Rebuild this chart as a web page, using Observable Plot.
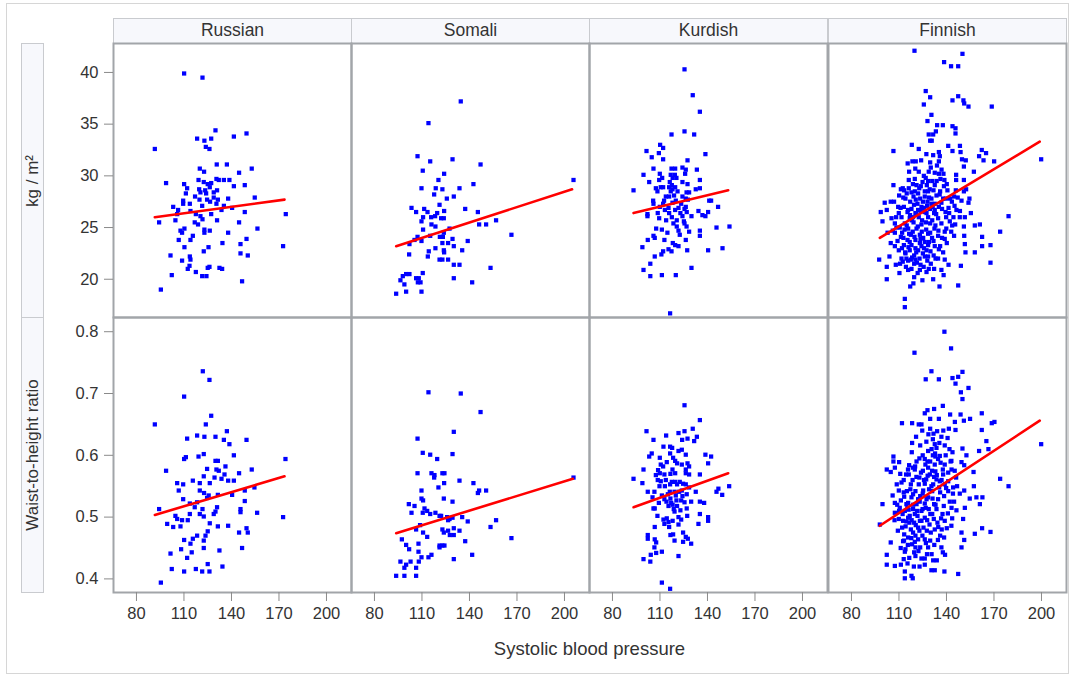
<!DOCTYPE html>
<html>
<head>
<meta charset="utf-8">
<script src="https://cdn.jsdelivr.net/npm/d3@7"></script>
<script src="https://cdn.jsdelivr.net/npm/@observablehq/plot@0.6"></script>
<style>
  html, body { margin: 0; padding: 0; background: #fff; }
  body { font-family: "Liberation Sans", Arial, sans-serif; }
  #root { position: relative; width: 1073px; height: 675px; overflow: hidden; background: #fff; }
  .outer { position: absolute; left: 6px; top: 3px; width: 1063px; height: 671px; border: 1px solid #d6d6d6; box-sizing: border-box; }
  .colhead { position: absolute; top: 18px; height: 25px; background: #f7f8fc; border: 1px solid #c9cbcf; border-bottom: none; box-sizing: border-box; font-size: 17.5px; color: #333; text-align: center; line-height: 23px; }
  .rowhead { position: absolute; left: 21px; width: 23px; background: #f7f8fc; border: 1px solid #c9cbcf; box-sizing: border-box; }
  .rowhead span { position: absolute; left: 50%; top: 50%; transform: translate(-50%, -50%) rotate(-90deg); white-space: nowrap; font-size: 17px; color: #333; }
  .panel { position: absolute; }
  .xlabel { position: absolute; top: 638px; left: 113px; width: 953px; text-align: center; font-size: 18.5px; color: #333; }
</style>
</head>
<body>
<div id="root"></div>
<script>
// ---------------- data ----------------
const groups = ["Russian", "Somali", "Kurdish", "Finnish"];
const rowLabels = ["kg / m\u00B2", "Waist-to-height ratio"];
const xTitle = "Systolic blood pressure";
const xTicks = [80, 110, 140, 170, 200];
const bmiTicks = [20, 25, 30, 35, 40];
const whtrTicks = [0.4, 0.5, 0.6, 0.7, 0.8];

// [systolic blood pressure, BMI]
const russianBmi = [[110.1,39.9],[121.7,39.5],[91.6,32.6],[129.9,34.4],[118.3,33.6],[122.9,33.4],[127.2,33.6],[141.5,33.8],[149.5,34.1],[123.8,32.8],[126.1,32.6],[98.7,29.3],[120,30.7],[122.7,30.4],[130.7,31.1],[137.1,31.1],[144.8,30.3],[152.8,30.7],[110.1,29.2],[112,28.8],[119.2,29.6],[122.5,29.4],[125,29.2],[127.2,29.3],[130.5,29.7],[132,29.6],[135.2,29.6],[138.7,29.6],[141.5,29.0],[148.4,29.1],[119.6,28.7],[120.4,28.4],[123.4,28.6],[126.3,28.9],[128.8,28.4],[130.9,28.6],[111.2,28.3],[119.8,27.7],[124.6,27.7],[128.8,27.9],[131.4,27.7],[137.9,27.8],[154.7,27.9],[109.5,27.6],[109.5,27.3],[113.7,27.3],[103.2,27.0],[106.3,26.7],[121.5,27.1],[130.5,27.3],[135.2,27.1],[140.4,26.9],[105.7,26.3],[114.1,26.6],[117.5,26.3],[120.4,26.1],[127.2,26.3],[133.7,26.7],[148.4,26.5],[174.3,26.3],[94.3,25.5],[104.6,25.7],[116.8,25.5],[118.9,25.3],[121.7,25.8],[130.9,25.7],[144.8,25.5],[107.8,24.7],[110.3,24.9],[108.8,24.5],[122.9,24.8],[122.9,24.5],[126.3,24.7],[137.9,24.5],[156.4,24.9],[115.6,24.2],[114.1,23.8],[106.7,23.8],[149.5,23.9],[134.3,23.5],[145.7,23.4],[172.6,23.2],[110.3,23.1],[125.5,23.1],[122.5,22.7],[145.7,22.5],[101.5,22.3],[113.7,22.2],[150.3,22.3],[114.1,21.9],[108.8,21.8],[113.5,21.3],[112.4,21.0],[126.1,21.2],[125,21.1],[132.4,21.1],[134.1,21.0],[117.5,20.7],[102.3,20.4],[121.5,20.3],[124.2,20.3],[146.7,19.8],[95.4,19.0],[124.0,28.3],[117.0,28.0],[126.5,27.5]];

// [systolic blood pressure, waist-to-height ratio]
const russianWhtr = [[121.9,0.736],[126.1,0.722],[110.1,0.695],[91.6,0.650],[127.2,0.664],[123.8,0.650],[149.5,0.625],[112,0.627],[118.3,0.632],[122.9,0.630],[129.9,0.630],[135.2,0.625],[137.1,0.639],[138.7,0.618],[141.5,0.600],[110.1,0.594],[111.2,0.597],[119.2,0.598],[122.5,0.602],[129.9,0.591],[131.4,0.591],[136.2,0.582],[98.7,0.575],[174.1,0.594],[124.6,0.578],[130.5,0.577],[132,0.575],[152.8,0.577],[144.8,0.571],[135.6,0.569],[129.3,0.564],[122.5,0.566],[115.6,0.559],[105.7,0.555],[109.5,0.553],[120.0,0.555],[126.3,0.555],[133.7,0.562],[137.9,0.559],[141.5,0.559],[106.7,0.543],[120,0.543],[122.7,0.539],[125.6,0.535],[131.4,0.536],[140.4,0.536],[148.4,0.543],[154.5,0.548],[109.5,0.529],[124.6,0.531],[113.7,0.522],[118.3,0.524],[148.4,0.526],[116.8,0.516],[121.7,0.513],[130.9,0.516],[94.3,0.513],[145.7,0.513],[129.9,0.509],[120.0,0.505],[122.5,0.501],[128.8,0.505],[145.7,0.508],[156.2,0.507],[113.7,0.505],[104.6,0.502],[172.6,0.500],[112.4,0.495],[108.8,0.495],[105.7,0.497],[99.4,0.489],[103.2,0.484],[107.8,0.485],[126.3,0.490],[125,0.477],[131.4,0.485],[137.9,0.486],[149.5,0.482],[150.3,0.475],[144.8,0.475],[123.6,0.470],[118.3,0.470],[115.6,0.465],[110.1,0.463],[122.5,0.462],[114.1,0.457],[108.2,0.448],[122.5,0.450],[146.7,0.450],[114.9,0.443],[132.4,0.446],[112,0.434],[101.5,0.441],[134.3,0.420],[125,0.424],[102.3,0.416],[117.5,0.416],[110.1,0.412],[121.5,0.412],[126.1,0.412],[95.4,0.394]];

const somaliBmi = [[134.5,37.2],[114.1,35.1],[107.2,31.9],[115.2,31.4],[129.3,31.6],[147,31.1],[110.5,30.5],[124,30.2],[120.4,29.6],[205.7,29.6],[142.5,29.2],[109.7,28.8],[118.7,28.8],[122.9,28.7],[133.7,28.8],[117.7,28.2],[130.1,28.0],[125.7,27.8],[121.1,27.2],[103.4,26.9],[111.4,26.8],[106.3,26.5],[113.5,26.5],[124,26.6],[137.3,26.8],[145.3,26.5],[119.6,26.4],[118.3,26.1],[110.7,26.0],[115.8,26.0],[122.1,25.9],[123.8,25.9],[109.7,25.6],[156.8,25.7],[116,25.3],[118.5,25.1],[146.1,25.3],[150.5,25.3],[127.4,24.9],[110.7,24.8],[123.8,24.5],[115.2,24.2],[121.3,24.1],[123.2,24.1],[107.2,24.1],[129.3,23.9],[166.5,24.3],[105.3,23.8],[109.7,23.7],[102.1,23.4],[122.9,23.5],[126.5,23.5],[138.9,23.7],[130.1,23.2],[118.5,23.0],[114.3,22.7],[123.8,22.8],[124,22.6],[135.4,22.8],[101.9,22.4],[113.7,22.2],[121.1,21.9],[122.9,21.9],[126.5,21.9],[130.1,21.4],[133.7,21.4],[153.3,21.1],[100,20.5],[102.1,20.5],[110.5,20.6],[97.9,20.3],[106.3,20.1],[108,20.1],[130.1,20.1],[96.4,19.9],[107.4,19.7],[109.1,19.7],[141.7,19.7],[98.9,19.5],[93.7,18.6],[100,18.8],[109.7,18.8]];

const somaliWhtr = [[114.1,0.702],[134.5,0.700],[147,0.670],[130.1,0.638],[107.2,0.627],[110.5,0.604],[115.2,0.601],[129.3,0.602],[119.6,0.594],[107.2,0.571],[116,0.571],[117.9,0.568],[117.7,0.564],[122.9,0.571],[124.2,0.571],[205.7,0.564],[133.7,0.559],[142.5,0.555],[124,0.555],[120.4,0.548],[109.7,0.543],[146.1,0.543],[150.5,0.543],[145.3,0.539],[109.7,0.530],[110.7,0.527],[123.8,0.530],[129.3,0.525],[101.7,0.521],[105.3,0.518],[111.6,0.514],[113.3,0.510],[103.4,0.507],[110.5,0.507],[115.2,0.505],[118.5,0.507],[121.1,0.502],[122.1,0.502],[125.9,0.500],[127.4,0.497],[129.3,0.499],[135.4,0.500],[138.9,0.493],[156.8,0.495],[126.5,0.495],[108.8,0.487],[153.3,0.484],[106.3,0.480],[122.9,0.480],[126.5,0.478],[130.1,0.482],[133.7,0.478],[110.7,0.475],[123.8,0.475],[127.6,0.471],[130.1,0.471],[113.3,0.468],[97.3,0.464],[166.5,0.466],[137.3,0.461],[100,0.455],[107.8,0.457],[121.1,0.454],[122.9,0.454],[124.2,0.454],[121.1,0.451],[101.9,0.448],[107.8,0.444],[116,0.439],[109.7,0.435],[114.1,0.435],[141.7,0.439],[130.1,0.432],[96.4,0.428],[102.8,0.428],[108,0.428],[100,0.423],[98.9,0.418],[106.3,0.418],[93.7,0.405],[98.9,0.405],[106.3,0.405]];

const kurdishBmi = [[125.5,40.3],[130.7,37.8],[135.2,36.2],[125.5,34.3],[117.3,34.0],[131.6,34.0],[110.1,33.0],[112,32.7],[101.5,32.4],[109.3,32.2],[138.7,32.1],[104.8,31.8],[112,31.6],[127.4,31.5],[105.9,30.7],[117.3,30.7],[119.6,30.7],[124.2,30.8],[126.3,30.6],[133.3,30.6],[99.6,30.1],[109.9,30.2],[116.8,30.1],[119.4,30.1],[125.9,30.2],[111.4,29.8],[118,29.8],[120.4,29.8],[103.2,29.4],[109.5,29.6],[116.2,29.4],[124.2,29.4],[135.2,29.6],[117.5,29.1],[119.6,28.9],[112,28.9],[93.3,28.6],[107.4,28.8],[110.5,28.9],[115.8,28.9],[117.9,28.7],[127.4,29.2],[135.2,28.8],[132.6,28.7],[108.4,28.5],[116.8,28.5],[121.1,28.5],[126.8,28.4],[128.4,28.4],[113.7,28.0],[115.8,28.0],[118.9,28.1],[124.2,28.0],[126.3,27.8],[105.7,27.6],[112.6,27.6],[120,27.6],[127.6,27.7],[142.3,27.6],[105.9,27.3],[112,27.3],[117.9,27.4],[123.4,27.3],[141.1,27.6],[146.7,27.0],[109.9,27.0],[115.4,26.9],[121.7,26.9],[126.3,27.0],[113.1,26.7],[119.6,26.7],[125.5,26.8],[134.3,26.6],[140.4,26.5],[102.1,26.3],[108.6,26.4],[115.8,26.4],[122.9,26.4],[126.9,26.5],[102.1,26.1],[117.5,26.0],[124.2,26.1],[129.9,26.1],[138.7,26.1],[136.8,26.2],[109.5,25.9],[113.9,25.7],[120.6,25.7],[125.1,25.6],[118.5,25.4],[125.5,25.4],[126.8,25.1],[120.6,25.1],[153.9,25.1],[145.7,25.0],[135.2,24.7],[111.2,24.8],[107.6,24.9],[114.7,24.5],[121.7,24.7],[128.4,24.6],[122.5,24.3],[135.2,24.2],[105.9,24.2],[106.7,24.0],[102.3,23.8],[112.8,23.8],[126.3,23.8],[98.9,23.1],[118.1,23.5],[119.6,23.3],[121.7,23.2],[115.4,22.9],[117.3,22.7],[112,22.7],[127.2,22.8],[140.4,22.8],[149.5,23.0],[110.9,22.4],[106.7,22.2],[103.9,21.5],[99.6,20.9],[129.9,21.1],[103.9,20.3],[111.2,20.4],[120,20.4],[116.4,16.7]];

const kurdishWhtr = [[125.5,0.681],[135.2,0.657],[130.7,0.643],[101.5,0.639],[125.5,0.639],[121.7,0.636],[113.9,0.632],[133.3,0.630],[127.4,0.627],[105.9,0.625],[124,0.625],[131.6,0.623],[112.2,0.614],[116.4,0.614],[117.7,0.612],[121.7,0.607],[123.8,0.609],[104.8,0.603],[116.4,0.603],[126.3,0.601],[138.7,0.601],[142.3,0.598],[103.2,0.598],[109.9,0.596],[118.3,0.596],[119.6,0.591],[114.3,0.589],[120.8,0.587],[140.4,0.587],[127.4,0.587],[110.5,0.585],[123.8,0.585],[112,0.582],[128.4,0.582],[99.6,0.577],[108.8,0.576],[117.9,0.577],[126.3,0.577],[109.9,0.571],[112.8,0.569],[116.6,0.570],[119.6,0.571],[126.3,0.571],[128.4,0.569],[135.2,0.569],[107.4,0.568],[93.3,0.562],[108.6,0.560],[110.5,0.558],[113.7,0.560],[117.5,0.557],[119.6,0.557],[122.5,0.557],[124.6,0.554],[98.9,0.555],[116.4,0.553],[120.8,0.553],[126.3,0.553],[109.7,0.550],[113.1,0.550],[128.4,0.548],[153.7,0.550],[146.9,0.546],[102.3,0.541],[106.5,0.541],[116.2,0.541],[119.2,0.541],[122.1,0.541],[123.8,0.543],[132.6,0.541],[145.7,0.541],[149.3,0.536],[111.2,0.535],[115,0.537],[120,0.535],[124.2,0.534],[126.9,0.537],[105.3,0.532],[112.8,0.529],[116.6,0.530],[120.4,0.527],[123.4,0.527],[109.3,0.523],[114.1,0.525],[117.1,0.523],[125.5,0.524],[129.7,0.525],[135.2,0.525],[137.9,0.523],[118,0.520],[120.8,0.518],[115.4,0.518],[105.9,0.514],[118.7,0.513],[122.9,0.511],[126.9,0.514],[106.7,0.514],[119.2,0.509],[135.2,0.505],[108.4,0.502],[127.2,0.502],[121.7,0.500],[112.2,0.496],[114.3,0.498],[118,0.494],[123.4,0.496],[140.4,0.500],[140.4,0.494],[134.3,0.489],[115.4,0.492],[112.8,0.489],[121.7,0.488],[115.8,0.484],[106.7,0.484],[124.6,0.475],[102.3,0.471],[116.6,0.471],[118.3,0.472],[126.3,0.468],[127.6,0.465],[102.3,0.465],[106.7,0.464],[119.2,0.462],[124.6,0.460],[129.7,0.457],[107.6,0.459],[106.5,0.451],[111.2,0.444],[107.6,0.442],[104.2,0.439],[121.7,0.437],[99.6,0.432],[103.9,0.428],[111.2,0.394],[116.4,0.384]];

const finnishBmi = [[119.8,42.1],[150.1,41.8],[138.5,41.0],[142.9,40.6],[147.4,40.6],[126.9,38.2],[129.7,37.6],[147.4,37.7],[143.8,37.3],[150.7,37.3],[125.7,36.9],[151.2,37.0],[153.9,36.7],[168.6,36.7],[130.5,35.9],[128,35.3],[134.1,34.9],[137.7,34.9],[143.8,34.8],[145.7,34.6],[133.3,34.3],[128.8,34.0],[145.7,34.1],[131.6,34.0],[129.7,33.4],[118.1,33.0],[130.7,33.4],[141.1,32.9],[148.5,32.9],[122.5,32.6],[106.5,32.4],[143.8,32.4],[148.9,32.3],[162.3,32.5],[165,32.2],[135.2,32.3],[131.6,32.0],[135.8,31.9],[160.6,31.9],[149.8,31.6],[152.2,31.5],[163.4,31.5],[170.1,31.4],[199.8,31.6],[118.5,31.4],[120.6,31.4],[129.7,31.3],[135.2,31.4],[151,30.9],[122.5,30.4],[128.8,30.4],[132.6,30.3],[135.2,30.2],[138.1,30.2],[146.1,30.1],[157.3,30.4],[151,29.6],[146.1,29.6],[116.2,29.6],[120,29.7],[128.4,29.5],[131,29.5],[136.2,29.7],[138.7,29.6],[106.5,29.1],[112.4,28.8],[116.2,28.8],[121.1,29.1],[123.8,29.0],[127.6,29.1],[132.6,29.1],[138.4,29.0],[145.9,28.6],[151,28.5],[152.4,28.7],[111.2,28.7],[120,28.5],[126.3,28.5],[131.8,28.6],[136,28.5],[110.1,28.1],[114.1,27.8],[119.2,28.0],[123.4,27.8],[126.3,28.0],[130.5,27.8],[133.7,28.1],[137.9,27.8],[142.3,27.8],[144.8,28.0],[154.5,27.8],[104.8,27.5],[106.9,27.5],[117.1,27.5],[121.7,27.3],[128,27.5],[132.6,27.3],[143.4,27.5],[153.9,27.4],[113.1,27.0],[117.9,26.8],[124.2,27.0],[129.7,26.8],[135.2,27.0],[141.3,26.9],[145.1,27.1],[102.3,26.7],[98.5,26.5],[109.9,26.4],[115.4,26.5],[120.4,26.4],[126.3,26.5],[132.2,26.4],[139.4,26.5],[148.5,26.6],[155.4,26.4],[179.2,26.1],[111.6,26.0],[116.8,25.9],[122.5,26.0],[128.4,26.0],[134.7,25.9],[144.4,26.0],[148.4,26.0],[151.6,26.0],[99.6,25.6],[107.4,25.4],[113.7,25.4],[119.2,25.5],[124.2,25.3],[129.7,25.4],[136.8,25.4],[143.6,25.2],[151,25.1],[157.9,25.2],[161.1,25.3],[108.4,25.0],[115.8,24.9],[121.1,24.9],[127.2,24.8],[132.4,24.9],[138.9,24.6],[144.8,24.2],[173.9,24.6],[107.4,24.5],[112,24.5],[117.5,24.3],[123.2,24.3],[128.4,24.4],[134.7,24.2],[151.2,24.2],[162.5,24.1],[115.4,23.8],[120.4,23.8],[126.3,23.6],[131.8,23.7],[104.8,23.5],[113.1,23.3],[117.9,23.3],[124.2,23.2],[128.4,23.3],[140.2,23.5],[151.6,23.4],[162.5,23.2],[167.8,23.3],[107.4,23.2],[109.9,22.8],[116.8,22.8],[122.1,22.8],[127.4,22.8],[135.2,22.9],[137.9,22.6],[152,22.6],[157.9,22.6],[114.1,22.5],[119.6,22.3],[126.3,22.2],[97.5,21.9],[120.4,21.9],[115.8,21.8],[134.7,22.0],[138.9,21.9],[167.8,21.6],[112.4,21.7],[108,21.4],[119.6,21.5],[123.6,21.4],[141.3,21.4],[102.3,21.2],[110.7,21.5],[115.8,20.9],[123.2,20.9],[132.2,21.0],[136.8,20.9],[149.1,21.3],[119.6,20.2],[131.6,20.0],[102.3,20.0],[117.1,19.3],[147.4,19.4],[113.7,18.1],[113.7,17.3],[113.3,28.6],[117.9,28.4],[122.1,28.3],[128.4,28.5],[125.1,27.5],[130.5,27.3],[120.6,27.7],[115.8,26.7],[122.1,26.7],[127.4,26.4],[132.6,26.7],[118.9,26.0],[124.6,25.7],[131,25.7],[113.5,24.8],[118.7,24.6],[124.4,24.6],[129.7,24.5],[116.8,23.6],[123.2,23.5],[132.6,23.2],[120.4,23.0],[125.1,22.5],[128.4,22.2],[114.7,22.0],[121.3,21.6],[130.1,21.5],[117.9,21.0],[127.4,20.7],[138.9,23.9],[142.1,25.6],[146.3,26.7],[149.5,27.6],[136.8,27.4],[139.8,26.0],[111.2,24.1],[105.3,25.9],[109.5,27.0],[116.4,30.4],[140.2,29.2],[110.5,25.0],[112.8,24.0],[114.9,25.2],[116.4,24.4],[118.1,25.7],[119.8,24.1],[121.9,25.1],[123.6,23.9],[125.3,24.0],[127.0,25.5],[128.9,23.6],[130.9,24.0],[133.0,25.2],[134.9,24.7],[111.9,23.0],[113.9,22.6],[116.0,23.1],[118.3,22.1],[120.9,22.6],[123.0,22.0],[125.8,23.0],[127.9,21.8],[129.9,22.7],[131.9,22.3],[117.0,26.2],[119.5,27.2],[121.0,26.4],[123.8,26.6],[125.9,26.9],[127.8,27.1],[129.0,27.9],[131.3,27.0],[133.5,26.3],[135.7,28.2],[137.2,26.8],[139.6,27.8],[122.8,28.8],[124.9,29.4],[126.9,29.8],[129.4,28.7],[133.8,29.5],[136.9,30.6],[130.1,30.8],[125.7,30.0],[118.8,29.2],[114.9,28.3],[112.7,27.9],[111.0,26.9],[108.2,26.0],[106.1,24.7],[109.1,23.7],[111.6,22.0],[114.4,21.2],[117.5,21.9],[121.8,20.6],[125.6,21.2],[128.8,21.0],[133.1,22.0],[136.0,23.2],[137.2,24.0],[139.9,24.9],[141.7,26.4],[143.0,24.6],[145.5,25.3],[147.1,27.9],[140.6,28.6],[134.0,31.0],[127.3,32.1],[124.0,31.5],[120.3,30.7],[115.5,31.2],[119.1,19.6],[124.8,19.9],[110.3,20.6],[104.0,22.2],[102.8,24.5],[101.0,27.4],[138.2,20.4],[135.6,19.3]];

const finnishWhtr = [[138.7,0.800],[142.9,0.773],[119.8,0.766],[130.5,0.736],[150.1,0.735],[126.9,0.723],[135.2,0.723],[143.8,0.725],[147.4,0.727],[145.7,0.716],[153.9,0.709],[149.1,0.702],[150.1,0.691],[137.7,0.680],[128,0.673],[132.2,0.675],[126.3,0.668],[148.9,0.666],[162.3,0.668],[129.7,0.659],[135.2,0.659],[142.3,0.666],[154.9,0.659],[111.9,0.652],[118.3,0.652],[122.5,0.650],[124.2,0.650],[145.3,0.654],[151,0.656],[168.6,0.652],[170.3,0.654],[129.7,0.643],[141.5,0.643],[145.7,0.641],[162.3,0.641],[134.1,0.639],[120.8,0.630],[128.6,0.634],[136.8,0.630],[131.4,0.626],[165.2,0.623],[118.3,0.620],[123.4,0.616],[132.6,0.618],[138.9,0.616],[199.8,0.618],[150.1,0.611],[160.6,0.607],[166.5,0.610],[118.1,0.605],[128.4,0.607],[132.8,0.603],[143.8,0.605],[106.5,0.598],[131.4,0.600],[152.6,0.600],[106.5,0.590],[110.1,0.589],[116.4,0.584],[121.1,0.590],[126.3,0.594],[129.7,0.590],[134.7,0.594],[143.1,0.591],[149.5,0.589],[151.2,0.584],[102.3,0.577],[107.4,0.580],[104.8,0.573],[114.5,0.569],[120,0.577],[125.1,0.575],[128.4,0.580],[133,0.574],[137.7,0.577],[141.1,0.572],[157.1,0.573],[116.2,0.569],[122.9,0.564],[127.2,0.561],[132.2,0.565],[135.8,0.558],[146.1,0.564],[173.9,0.562],[111.6,0.556],[117.5,0.553],[122.5,0.553],[126.3,0.554],[130.5,0.550],[138.9,0.553],[144.2,0.548],[157.3,0.550],[179.2,0.550],[109.9,0.543],[115,0.542],[120.4,0.542],[125.3,0.543],[131,0.542],[136,0.540],[141.1,0.542],[151.2,0.543],[148.4,0.538],[113.3,0.533],[117.9,0.532],[123.4,0.534],[128.4,0.532],[134.7,0.529],[138.5,0.534],[154.7,0.530],[158.9,0.532],[162.7,0.532],[107.4,0.523],[99.6,0.521],[115.8,0.523],[121.1,0.521],[126.3,0.522],[132.2,0.521],[144.8,0.525],[161.1,0.521],[110.5,0.515],[113.7,0.510],[118.9,0.513],[124.2,0.510],[128.8,0.513],[133.7,0.513],[143.2,0.515],[151.6,0.515],[107.4,0.507],[116.8,0.502],[121.7,0.502],[126.3,0.499],[131,0.505],[137.5,0.505],[146.3,0.511],[150.5,0.497],[109.9,0.497],[114.7,0.493],[119.6,0.491],[124.2,0.494],[129.3,0.488],[134.3,0.491],[138.9,0.494],[143.1,0.486],[97.9,0.488],[112,0.483],[117.5,0.480],[122.1,0.483],[127.6,0.478],[132.6,0.480],[140.2,0.482],[162.5,0.482],[157.9,0.473],[167.8,0.476],[149.5,0.475],[113.3,0.472],[115.8,0.467],[120.4,0.470],[126.3,0.464],[136,0.470],[138.5,0.467],[151.2,0.463],[104.8,0.459],[112.6,0.461],[118.3,0.456],[123.4,0.451],[128.4,0.451],[136.8,0.451],[149.5,0.451],[114.1,0.448],[119.6,0.443],[113.7,0.444],[137.7,0.443],[139.1,0.439],[102.3,0.439],[120.4,0.437],[124.2,0.433],[126.3,0.433],[131.6,0.430],[102.3,0.423],[107.4,0.421],[111.2,0.423],[115.4,0.425],[126.3,0.423],[113.7,0.412],[130.5,0.414],[132.6,0.414],[138.7,0.412],[147.4,0.408],[117.9,0.405],[113.7,0.401],[118.7,0.401],[115.8,0.499],[120,0.505],[124.9,0.513],[127.4,0.529],[131.6,0.553],[133.7,0.561],[129.5,0.569],[126.7,0.585],[132.6,0.585],[135.8,0.599],[133.7,0.612],[138.9,0.585],[141.1,0.558],[143.2,0.577],[137.9,0.569],[118.9,0.537],[122.1,0.529],[114.7,0.521],[118.9,0.475],[122.1,0.464],[116.6,0.491],[123.2,0.494],[130.1,0.475],[120.4,0.451],[112.6,0.494],[110.1,0.510],[111.2,0.527],[113.0,0.540],[115.3,0.515],[117.2,0.545],[119.0,0.520],[121.4,0.510],[123.1,0.525],[125.0,0.538],[126.9,0.515],[129.0,0.545],[131.2,0.530],[133.1,0.520],[135.4,0.548],[112.3,0.505],[114.2,0.485],[116.1,0.512],[118.0,0.495],[120.6,0.487],[122.9,0.478],[125.5,0.483],[127.8,0.495],[129.8,0.505],[132.0,0.497],[134.8,0.484],[136.6,0.498],[113.2,0.462],[115.6,0.455],[117.8,0.466],[120.0,0.460],[122.3,0.445],[124.8,0.470],[127.0,0.458],[129.7,0.462],[132.3,0.455],[134.6,0.463],[118.6,0.560],[121.0,0.565],[123.9,0.572],[125.8,0.560],[128.1,0.567],[130.9,0.575],[133.9,0.568],[136.9,0.560],[139.8,0.547],[120.2,0.582],[122.9,0.595],[125.0,0.600],[128.0,0.590],[130.6,0.610],[133.0,0.598],[136.3,0.588],[139.5,0.600],[141.9,0.610],[127.3,0.622],[131.8,0.635],[135.5,0.620],[138.0,0.640],[140.7,0.628],[124.7,0.640],[118.8,0.580],[115.7,0.577],[113.0,0.560],[110.8,0.570],[108.6,0.553],[106.0,0.535],[108.9,0.520],[107.2,0.495],[109.3,0.478],[111.1,0.450],[113.0,0.432],[116.5,0.434],[119.4,0.420],[123.0,0.420],[127.7,0.440],[130.6,0.440],[133.9,0.430],[142.1,0.525],[144.1,0.538],[146.7,0.550],[145.2,0.575],[142.6,0.590],[138.3,0.518],[140.9,0.506],[137.0,0.480],[143.6,0.498]];

// fitted regression lines (end points)
const russianBmiFit = [[91.6,26.0],[173.5,27.7]];
const russianWhtrFit = [[91.6,0.5035],[173.5,0.566]];
const somaliBmiFit = [[93.7,23.2],[204.8,28.7]];
const somaliWhtrFit = [[93.7,0.474],[205.3,0.562]];
const kurdishBmiFit = [[93.3,26.4],[153.1,28.6]];
const kurdishWhtrFit = [[93.3,0.516],[153.1,0.571]];
const finnishBmiFit = [[97.9,24.0],[198.9,33.3]];
const finnishWhtrFit = [[97.9,0.486],[198.9,0.656]];

const points = [
  [russianBmi, somaliBmi, kurdishBmi, finnishBmi],
  [russianWhtr, somaliWhtr, kurdishWhtr, finnishWhtr]
];
const fits = [
  [russianBmiFit, somaliBmiFit, kurdishBmiFit, finnishBmiFit],
  [russianWhtrFit, somaliWhtrFit, kurdishWhtrFit, finnishWhtrFit]
];

// ---------------- layout ----------------
const root = document.getElementById("root");
const panelLeft = [113, 351, 589, 828];
const panelTop = [43, 317];
const panelW = 238;
const panelH = [274, 275];
const xDomain = [65.5, 215.8];
const yDomains = [[16.3, 42.8], [0.378, 0.823]];
const yTicksRows = [bmiTicks, whtrTicks];
const yFormats = [d3.format("d"), d3.format(".1f")];

function addDiv(cls, style, html) {
  const d = document.createElement("div");
  d.className = cls;
  Object.assign(d.style, style);
  if (html != null) d.innerHTML = html;
  root.appendChild(d);
  return d;
}

addDiv("outer", {});

groups.forEach((g, c) => {
  addDiv("colhead", {left: panelLeft[c] + "px", width: (panelW + 1) + "px"}).textContent = g;
});
rowLabels.forEach((lab, r) => {
  const d = addDiv("rowhead", {top: panelTop[r] + "px", height: (panelH[r] + 1) + "px"});
  const s = document.createElement("span");
  s.textContent = lab;
  d.appendChild(s);
});

for (let r = 0; r < 2; r++) {
  for (let c = 0; c < 4; c++) {
    const mL = c === 0 ? 70 : 1;
    const mR = 1, mT = 1;
    const mB = r === 1 ? 60 : 1;
    const marks = [
      Plot.frame({stroke: "#a2a5a9", strokeWidth: 2}),
      Plot.dot(points[r][c], {x: d => d[0], y: d => d[1], symbol: "square", r: 2.4, fill: "#0000ff", stroke: "none"}),
      Plot.line(fits[r][c], {x: d => d[0], y: d => d[1], stroke: "#ff0000", strokeWidth: 2.6})
    ];
    if (c === 0) {
      marks.push(Plot.axisY(yTicksRows[r], {tickSize: 9, tickPadding: 6, tickFormat: yFormats[r], stroke: "#8a8a8a", fill: "#333", label: null, fontSize: 16.5}));
    }
    if (r === 1) {
      marks.push(Plot.axisX(xTicks, {tickSize: 9, tickPadding: 6, stroke: "#8a8a8a", fill: "#333", label: null, fontSize: 16.5}));
    }
    const svg = Plot.plot({
      width: panelW + mL + mR,
      height: panelH[r] + mT + mB,
      marginLeft: mL, marginRight: mR, marginTop: mT, marginBottom: mB,
      x: {domain: xDomain, axis: null},
      y: {domain: yDomains[r], axis: null},
      style: {fontFamily: "'Liberation Sans', Arial, sans-serif", fontSize: "16.5px", color: "#333", background: "transparent", overflow: "visible"},
      marks
    });
    const wrap = addDiv("panel", {left: (panelLeft[c] - mL) + "px", top: (panelTop[r] - mT) + "px"});
    wrap.appendChild(svg);
  }
}

addDiv("xlabel", {}).textContent = xTitle;
</script>
</body>
</html>
